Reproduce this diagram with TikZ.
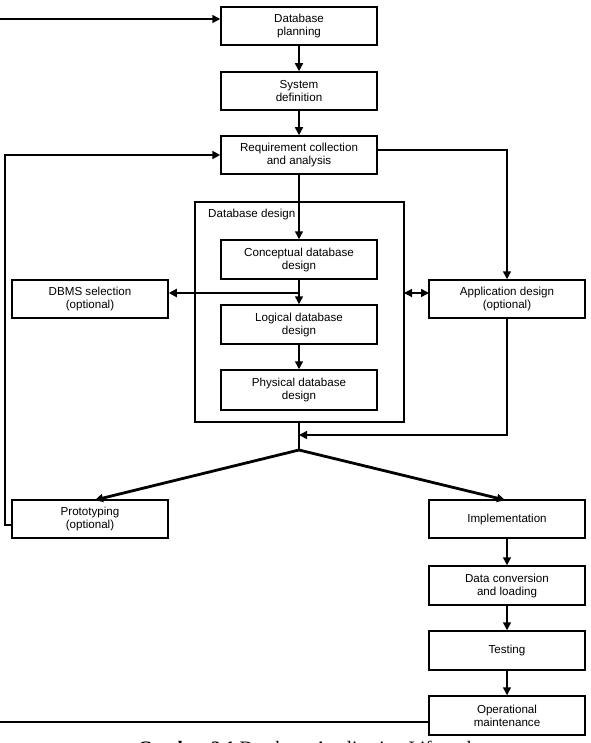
\documentclass[tikz,border=0pt]{standalone}
\usepackage{fontspec}
\setmainfont{Liberation Sans}
\newfontfamily\capfont{Liberation Serif}
\usetikzlibrary{arrows.meta}
\begin{document}
\begin{tikzpicture}[x=1pt,y=-1pt,
  box/.style={draw, line width=1.5pt, minimum width=156pt, minimum height=38pt, align=center, inner sep=0pt, font=\fontsize{11.6}{13}\selectfont},
  tip/.style={-{Triangle[length=8pt,width=8pt]}},
  thinline/.style={line width=1.5pt},
  thickline/.style={line width=2.8pt},
  lbl/.style={font=\fontsize{11.6}{13}\selectfont, inner sep=0pt}]
\clip (0,0) rectangle (590,743);
% boxes
\node[box] (dp) at (299,26) {Database\\planning};
\node[box] (sd) at (299,91) {System\\definition};
\node[box] (rc) at (299,155) {Requirement collection\\and analysis};
\node[draw, line width=1.5pt, minimum width=209pt, minimum height=220pt, inner sep=0pt] (dbd) at (299.5,312) {};
\node[lbl, anchor=base west] (dbdl) at (208,218) {Database design};
\node[box, minimum height=39pt] (cd) at (299,259.5) {Conceptual database\\design};
\node[box, minimum height=39pt] (ld) at (299,324.5) {Logical database\\design};
\node[box, minimum height=40pt] (pd) at (299,390) {Physical database\\design};
\node[box] (dbms) at (90,299) {DBMS selection\\(optional)};
\node[box] (app) at (507,299) {Application design\\(optional)};
\node[box] (proto) at (90,519) {Prototyping\\(optional)};
\node[box] (impl) at (507,519) {Implementation};
\node[box, minimum height=39pt] (dc) at (507,585.5) {Data conversion\\and loading};
\node[box, minimum height=39pt] (test) at (507,650.5) {Testing};
\node[box, minimum height=39pt] (om) at (507,715.5) {Operational\\maintenance};
% coordinates
\coordinate (tl) at (0,19);
\coordinate (fb) at (5,525);
\coordinate (rcr) at (377,150);
\coordinate (dsel) at (299,293);
\coordinate (dbr) at (404,293);
\coordinate (appl) at (429,293);
\coordinate (merge) at (299,435);
\coordinate (junc) at (299,450);
\coordinate (ptop) at (95,500);
\coordinate (itop) at (505,500);
\coordinate (bl) at (0,722);
% connectors
\draw[thinline, tip] (tl) -- (tl -| dp.west);
\draw[thinline, tip] (dp.south) -- (sd.north);
\draw[thinline, tip] (sd.south) -- (rc.north);
\draw[thickline, tip] (proto.west |- fb) -- (fb) |- (rc.west);
\draw[thickline] (rcr) -- ++(23,0);
\draw[thinline, tip] (rcr) -| (app.north);
\draw[thinline, tip] (rc.south) -- (cd.north);
\draw[thinline, tip] (cd.south) -- (ld.north);
\draw[thickline, tip] (dsel) -- (dsel -| dbms.east);
\draw[thinline, {Triangle[length=8pt,width=8pt]}-{Triangle[length=8pt,width=8pt]}] (dbr) -- (appl);
\draw[thinline, tip] (ld.south) -- (pd.north);
\draw[thinline] (junc |- dbd.south) -- (junc);
\draw[thinline, tip] (app.south) |- (merge);
\draw[thickline, tip] (junc) -- (ptop);
\draw[thickline, tip] (junc) -- (itop);
\draw[thinline, tip] (impl.south) -- (dc.north);
\draw[thinline, tip] (dc.south) -- (test.north);
\draw[thinline, tip] (test.south) -- (om.north);
\draw[thickline] (om.west |- bl) -- (bl);
% caption (cut off by the page edge, as in the reference)
\node[anchor=base, inner sep=0pt, font=\capfont\fontsize{19}{22}\selectfont] (cap) at (309,754) {\textbf{Gambar 2.1} Database Application Lifecycle};
\end{tikzpicture}
\end{document}
